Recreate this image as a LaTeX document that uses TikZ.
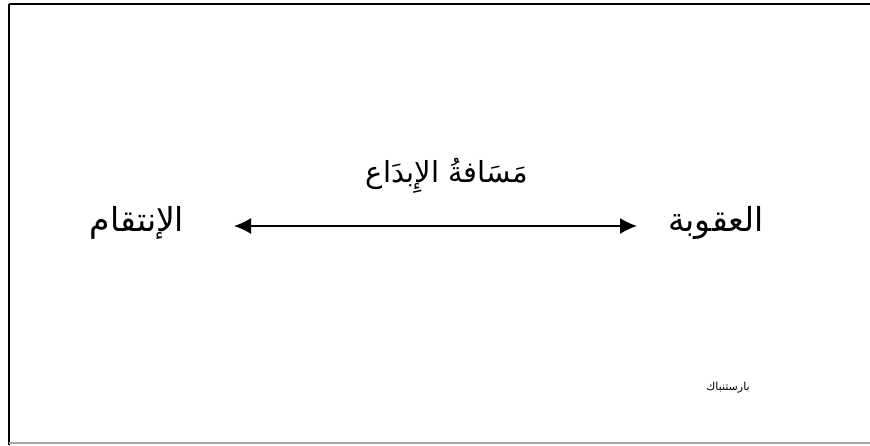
\documentclass[tikz,border=0pt]{standalone}
\usepackage{fontspec}
\usetikzlibrary{arrows.meta}
\newfontfamily\arabicfont[Script=Arabic]{DejaVu Sans}
\TeXXeTstate=1
\begin{document}
\begin{tikzpicture}[x=1pt,y=-1pt,
  arlabel/.style={font=\arabicfont\fontsize{33}{38}\selectfont, inner sep=0pt},
  toplabel/.style={font=\arabicfont\fontsize{29}{34}\selectfont, inner sep=0pt},
  smalllabel/.style={font=\arabicfont\fontsize{11}{13}\selectfont, inner sep=0pt},
  conn/.style={line width=1.6pt, {Latex[length=17pt,width=16pt]}-{Latex[length=17pt,width=16pt]}}]
\useasboundingbox (0,0) rectangle (870,445);
\draw[line width=2pt] (9,4) -- (870,4);
\draw[line width=2pt] (9,4) -- (9,445);
\draw[line width=1.5pt, gray!70] (9,443) -- (870,443);
\node[arlabel] (left) at (137,223) {\beginR الإنتقام\endR};
\node[arlabel] (right) at (716,223) {\beginR العقوبة\endR};
\node[toplabel] (top) at (447,176) {\beginR مَسَافةُ الإِبدَاع\endR};
\node[smalllabel] (note) at (728,388) {\beginR بارستنباك\endR};
\coordinate (a) at (234,226);
\coordinate (b) at (637,226);
\draw[conn] (a) -- (b);
\end{tikzpicture}
\end{document}
